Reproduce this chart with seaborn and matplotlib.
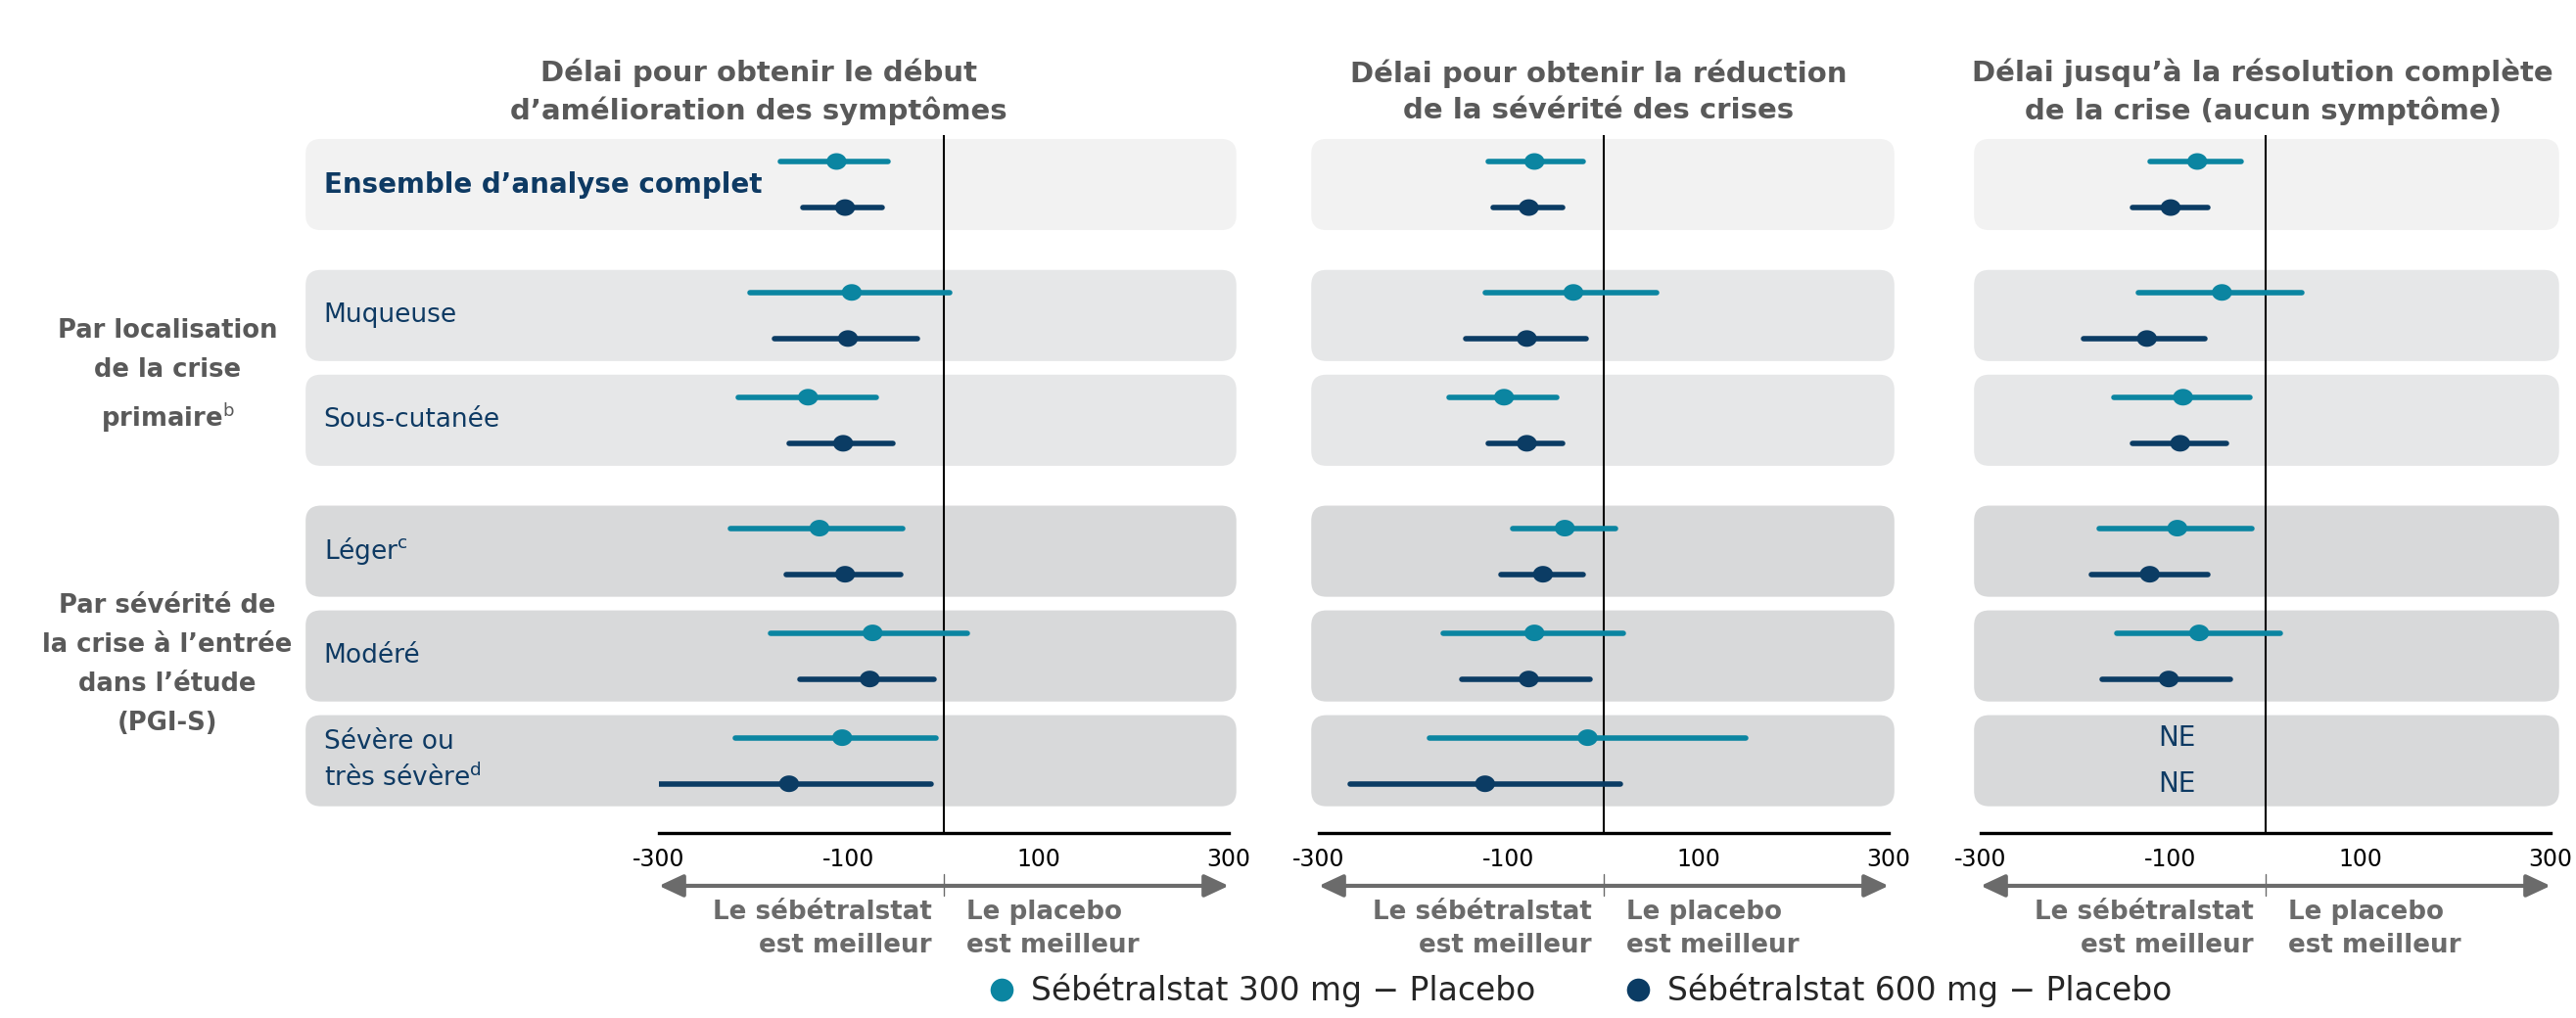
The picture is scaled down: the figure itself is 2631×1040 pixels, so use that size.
import numpy as np
import pandas as pd
import matplotlib
matplotlib.use("Agg")
import matplotlib.pyplot as plt
import matplotlib.transforms as mtransforms
import seaborn as sns
from matplotlib.patches import FancyBboxPatch
from matplotlib.path import Path
from matplotlib.lines import Line2D

# ---- data (days, difference vs placebo) ----
row_labels = ["Ensemble d’analyse complet", "Muqueuse", "Sous-cutanée",
              "Léger$^{\\mathrm{c}}$", "Modéré", "Sévère ou\ntrès sévère$^{\\mathrm{d}}$"]
row_group = [0, 1, 1, 2, 2, 2]
group_labels = ["",
                "Par localisation\nde la crise\nprimaire$^{\\mathrm{b}}$",
                "Par sévérité de\nla crise à l’entrée\ndans l’étude\n(PGI-S)"]
panel_titles = ["Délai pour obtenir le début\nd’amélioration des symptômes",
                "Délai pour obtenir la réduction\nde la sévérité des crises",
                "Délai jusqu’à la résolution complète\nde la crise (aucun symptôme)"]
doses = ["Sébétralstat 300 mg − Placebo", "Sébétralstat 600 mg − Placebo"]
tick_values = [-300, -100, 100, 300]
tick_labels = ["-300", "-100", "100", "300"]

# (estimate, lower, upper); None = NE (non estimable)
onset_300 = [(-113, -172, -59), (-97, -204, 6), (-143, -217, -71),
             (-131, -225, -43), (-75, -182, 25), (-107, -220, -8)]
onset_600 = [(-104, -148, -65), (-101, -178, -28), (-106, -163, -54),
             (-104, -166, -45), (-78, -152, -10), (-163, -313, -13)]
severity_300 = [(-73, -122, -22), (-32, -125, 56), (-105, -163, -49),
                (-41, -96, 12), (-73, -169, 21), (-17, -184, 149)]
severity_600 = [(-79, -116, -43), (-81, -145, -19), (-81, -122, -43),
                (-64, -108, -22), (-79, -149, -14), (-125, -267, 18)]
resolution_300 = [(-72, -122, -26), (-46, -134, 38), (-87, -160, -17),
                  (-93, -175, -14), (-70, -157, 15), None]
resolution_600 = [(-100, -140, -61), (-125, -192, -64), (-90, -140, -41),
                  (-122, -184, -61), (-102, -172, -37), None]

TEAL = "#0b85a1"
NAVY = "#0b3c64"
LABEL_NAVY = "#0e3a63"
GRAY = "#595959"
ARROW_GRAY = "#6b6b6b"
box_colors = ["#f2f2f2", "#e6e7e8", "#d8d9da"]

# row positions: one unit per row, extra gap between groups
ypos = []
y = 0.0
for i, g in enumerate(row_group):
    if i > 0:
        y += 1.0 + (0.25 if g != row_group[i - 1] else 0.0)
    ypos.append(y)

records = []
panel_data = [(onset_300, onset_600), (severity_300, severity_600), (resolution_300, resolution_600)]
for k, pair in enumerate(panel_data):
    for dose, vals, off in zip(doses, pair, (-0.22, 0.22)):
        for i, v in enumerate(vals):
            est, lo, hi = v if v is not None else (np.nan, np.nan, np.nan)
            records.append(dict(panel=k, row=i, dose=dose, est=est, lo=lo, hi=hi, y=ypos[i] + off))
df = pd.DataFrame(records)

sns.set_style("white")
plt.rcParams["font.family"] = ["DejaVu Sans"]

W, H = 2631, 1040
fig = plt.figure(figsize=(W / 100, H / 100), dpi=100)

ax_left = [673, 1347, 2023]
ax_w = 582
ax_top, ax_bot = 138, 851
box_x = [(-672, 308), (-308, 306), (-307, 309)]
title_x = [775, 1633, 2311]

t = np.linspace(0, 2 * np.pi, 64)
ellipse = Path(np.column_stack([1.2 * np.cos(t), np.sin(t)]), closed=True)

axes = []
for k in range(3):
    ax = fig.add_axes([ax_left[k] / W, 1 - ax_bot / H, ax_w / W, (ax_bot - ax_top) / H])
    axes.append(ax)
    d = df[df.panel == k]
    ok = d.dropna(subset=["est"])

    sns.scatterplot(data=ok, x="est", y="y", hue="dose", hue_order=doses,
                    palette=[TEAL, NAVY], marker=ellipse, s=215, linewidth=0,
                    legend=False, ax=ax, zorder=3)
    ax.hlines(ok.y, ok.lo, ok.hi, colors=ok.dose.map({doses[0]: TEAL, doses[1]: NAVY}),
              lw=4, capstyle="round", zorder=2)

    ax.set_xlim(-300, 300)
    ax.set_ylim(6.19, -0.472)

    # rounded background boxes
    p = ax.transData.transform([(0, 0), (1, 1)])
    asp = abs(p[1, 0] - p[0, 0]) / abs(p[1, 1] - p[0, 1])
    x0, x1 = box_x[k]
    for yc, g in zip(ypos, row_group):
        ax.add_patch(FancyBboxPatch((x0, yc - 0.435), x1 - x0, 0.87,
                                    boxstyle="round,pad=0,rounding_size=16",
                                    mutation_aspect=asp, fc=box_colors[g], ec="none",
                                    clip_on=False, zorder=0))

    ax.axvline(0, color="black", lw=1.5, zorder=1)

    for _, r in d[d.est.isna()].iterrows():
        ax.text(-93, r.y, "NE", ha="center", va="center", fontsize=20, color=LABEL_NAVY)

    ax.set_xticks(tick_values)
    ax.set_xticklabels(tick_labels)
    ax.set_yticks([])
    ax.set_xlabel("")
    ax.set_ylabel("")
    ax.tick_params(axis="x", length=0, pad=11, labelsize=17, labelcolor="black")
    sns.despine(ax=ax, left=True)
    ax.spines["bottom"].set_linewidth(2.4)
    ax.spines["bottom"].set_color("black")
    ax.patch.set_alpha(0)

    # direction arrow and captions
    trans = mtransforms.blended_transform_factory(ax.transData, ax.transAxes)
    ax.annotate("", xy=(-300, -0.0757), xytext=(300, -0.0757), xycoords=trans, textcoords=trans,
                arrowprops=dict(arrowstyle="<|-|>,head_length=1.5,head_width=0.7",
                                color=ARROW_GRAY, lw=3, shrinkA=0, shrinkB=0),
                annotation_clip=False)
    ax.plot([0, 0], [-0.059, -0.0898], transform=trans, color=ARROW_GRAY, lw=1, clip_on=False)
    ax.text(-13, -0.138, "Le sébétralstat\nest meilleur", transform=trans, ha="right", va="center",
            multialignment="right", fontsize=18.8, fontweight="bold", color=ARROW_GRAY, linespacing=1.4)
    ax.text(24, -0.138, "Le placebo\nest meilleur", transform=trans, ha="left", va="center",
            multialignment="left", fontsize=18.8, fontweight="bold", color=ARROW_GRAY, linespacing=1.4)

    fig.text(title_x[k] / W, 1 - 94 / H, panel_titles[k], ha="center", va="center",
             fontsize=21, fontweight="bold", color=GRAY, linespacing=1.41)

# row labels inside the first panel's boxes
ax0 = axes[0]
for yc, lab, g in zip(ypos, row_labels, row_group):
    ax0.text(-653, yc, lab, ha="left", va="center", color=LABEL_NAVY,
             fontsize=20 if g == 0 else 19, fontweight="bold" if g == 0 else "normal",
             linespacing=1.43, clip_on=False)

# group labels on the far left
gtrans = mtransforms.blended_transform_factory(fig.transFigure, ax0.transData)
for g, lab in enumerate(group_labels):
    if not lab:
        continue
    gy = np.mean([yc for yc, gg in zip(ypos, row_group) if gg == g]) + 0.08
    ax0.text(171 / W, gy, lab, transform=gtrans, ha="center", va="center", multialignment="center",
             fontsize=18.6, fontweight="bold", color=GRAY, linespacing=1.7, clip_on=False)

handles = [Line2D([0], [0], marker="o", ls="", markersize=17, mfc=c, mec="none") for c in (TEAL, NAVY)]
fig.legend(handles, doses, loc="center", bbox_to_anchor=(1614 / W, 1 - 1012 / H), ncol=2,
           frameon=False, fontsize=23.7, handlelength=0.8, handletextpad=0.5,
           columnspacing=2.8, borderaxespad=0)

fig.savefig("out.png", dpi=100)
